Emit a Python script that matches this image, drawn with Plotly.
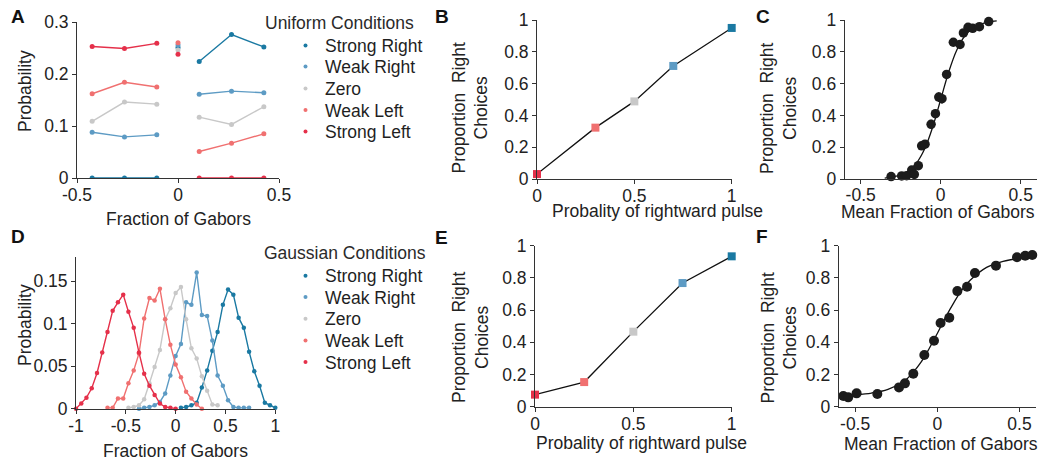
import plotly.graph_objects as go

W, H = 1044, 460
FONT = "Liberation Sans, Arial, Helvetica, sans-serif"
TXT = "#222222"
AXC = "#333333"

CONDITIONS = ["Strong Right", "Weak Right", "Zero", "Weak Left", "Strong Left"]
COLORS = {
    "Strong Right": "#1a79a2",
    "Weak Right": "#5d9bc4",
    "Zero": "#c8c8c8",
    "Weak Left": "#f07070",
    "Strong Left": "#e5304a",
}

# ---- A: uniform conditions, probability per fraction of Gabors ----
A_X = [-0.425, -0.265, -0.105, 0.0, 0.105, 0.265, 0.425]
A_VALUES = {
    "Strong Right": [0.000, 0.000, 0.000, 0.251, 0.224, 0.276, 0.252],
    "Weak Right":   [0.088, 0.079, 0.083, 0.256, 0.161, 0.167, 0.164],
    "Zero":         [0.109, 0.146, 0.142, 0.246, 0.117, 0.103, 0.137],
    "Weak Left":    [0.162, 0.184, 0.175, 0.260, 0.051, 0.067, 0.085],
    "Strong Left":  [0.253, 0.249, 0.259, 0.238, 0.000, 0.000, 0.000],
}

# ---- D: gaussian conditions, histogram bin centres and probabilities ----
D_BINS = [-1.000, -0.947, -0.895, -0.842, -0.789, -0.737, -0.684, -0.632,
          -0.579, -0.526, -0.474, -0.421, -0.368, -0.316, -0.263, -0.211,
          -0.158, -0.105, -0.053, 0.000, 0.053, 0.105, 0.158, 0.211, 0.263,
          0.316, 0.368, 0.421, 0.474, 0.526, 0.579, 0.632, 0.684, 0.737,
          0.789, 0.842, 0.895, 0.947, 1.000]
D_FIRST_BIN = {"Strong Left": 0, "Weak Left": 6, "Zero": 10,
               "Weak Right": 12, "Strong Right": 20}
D_VALUES = {
    "Strong Left": [0.000, 0.006, 0.013, 0.024, 0.042, 0.066, 0.090, 0.115,
                    0.125, 0.134, 0.114, 0.095, 0.066, 0.041, 0.027, 0.016,
                    0.006, 0.002, 0.001, 0.000],
    "Weak Left": [0.001, 0.001, 0.012, 0.012, 0.030, 0.045, 0.065, 0.106,
                  0.130, 0.127, 0.141, 0.105, 0.075, 0.052, 0.037, 0.020,
                  0.012, 0.005, 0.000],
    "Zero": [0.001, 0.002, 0.004, 0.011, 0.030, 0.049, 0.069, 0.105, 0.118,
             0.136, 0.143, 0.105, 0.071, 0.059, 0.038, 0.021, 0.005, 0.004],
    "Weak Right": [0.000, 0.001, 0.002, 0.004, 0.008, 0.018, 0.039, 0.062,
                   0.076, 0.125, 0.122, 0.160, 0.110, 0.109, 0.080, 0.039,
                   0.027, 0.010, 0.002, 0.001, 0.001, 0.001],
    "Strong Right": [0.001, 0.002, 0.004, 0.007, 0.025, 0.045, 0.068, 0.090,
                     0.122, 0.140, 0.134, 0.107, 0.095, 0.067, 0.044, 0.027,
                     0.007, 0.004, 0.001],
}

# ---- B / E: proportion of right choices per rightward-pulse probability ----
B_ORDER = ["Strong Left", "Weak Left", "Zero", "Weak Right", "Strong Right"]
B_P = [0.0, 0.3, 0.5, 0.7, 1.0]
B_PROP = [0.031, 0.323, 0.488, 0.711, 0.950]
B_ERR = [0.008, 0.012, 0.010, 0.018, 0.008]
E_P = [0.0, 0.25, 0.5, 0.75, 1.0]
E_PROP = [0.075, 0.153, 0.466, 0.768, 0.934]

# ---- C / F: psychometric data and fitted curves ----
C_X = [-0.310, -0.244, -0.213, -0.181, -0.165, -0.140, -0.119, -0.098,
       -0.060, -0.033, -0.012, 0.008, 0.037, 0.079, 0.121, 0.142, 0.171,
       0.200, 0.242, 0.300]
C_Y = [0.015, 0.019, 0.021, 0.056, 0.029, 0.084, 0.209, 0.219, 0.344, 0.411,
       0.515, 0.505, 0.658, 0.860, 0.846, 0.919, 0.954, 0.948, 0.958, 0.990]
C_ERR = [0.010, 0.012, 0.012, 0.018, 0.014, 0.020, 0.025, 0.025, 0.028, 0.028,
         0.030, 0.030, 0.028, 0.025, 0.025, 0.018, 0.014, 0.014, 0.012, 0.008]
C_FIT_X = [-0.35, -0.30, -0.25, -0.20, -0.15, -0.10, -0.05, 0.00, 0.05,
           0.10, 0.15, 0.20, 0.25, 0.30, 0.35]
C_FIT_Y = [0.006, 0.013, 0.026, 0.052, 0.102, 0.190, 0.327, 0.500, 0.673,
           0.810, 0.898, 0.948, 0.974, 0.987, 0.994]

F_X = [-0.572, -0.542, -0.491, -0.365, -0.233, -0.197, -0.146, -0.079,
       -0.020, 0.020, 0.073, 0.122, 0.181, 0.229, 0.357, 0.485, 0.535, 0.578]
F_Y = [0.066, 0.058, 0.083, 0.079, 0.120, 0.145, 0.205, 0.321, 0.410, 0.520,
       0.553, 0.718, 0.745, 0.830, 0.876, 0.928, 0.938, 0.942]
F_FIT_X = [-0.60, -0.50, -0.40, -0.30, -0.20, -0.15, -0.10, -0.05, 0.00, 0.05,
           0.10, 0.15, 0.20, 0.30, 0.40, 0.50, 0.60]
F_FIT_Y = [0.071, 0.075, 0.085, 0.108, 0.160, 0.210, 0.275, 0.360, 0.455,
           0.555, 0.645, 0.725, 0.785, 0.865, 0.903, 0.920, 0.927]


def px(x):
    return x / W


def py(y):
    return 1 - y / H


def _common(tickvals, ticktext):
    return dict(
        showline=True, linecolor=AXC, linewidth=1,
        ticks="outside", ticklen=4, tickwidth=1, tickcolor=AXC,
        tickvals=tickvals, ticktext=ticktext,
        showgrid=False, zeroline=False, automargin=False,
        tickfont=dict(family=FONT, size=17.5, color=TXT),
    )


def xaxis(x0, x1, rng, tickvals, ticktext, anchor, standoff=-3):
    return dict(domain=[px(x0), px(x1)], range=rng, anchor=anchor,
                ticklabelstandoff=standoff, **_common(tickvals, ticktext))


def yaxis(y_bottom, y_top, rng, tickvals, ticktext, anchor):
    return dict(domain=[py(y_bottom), py(y_top)], range=rng, anchor=anchor,
                **_common(tickvals, ticktext))


fig = go.Figure()

# A: left block, centre point and right block are drawn as separate pieces
for name in CONDITIONS:
    vals = A_VALUES[name]
    xs = A_X[:3] + [None, A_X[3], None] + A_X[4:]
    ys = vals[:3] + [None, vals[3], None] + vals[4:]
    fig.add_trace(go.Scatter(
        x=xs, y=ys, xaxis="x", yaxis="y", mode="lines+markers",
        line=dict(color=COLORS[name], width=1.4),
        marker=dict(color=COLORS[name], size=5),
        connectgaps=False, showlegend=False, cliponaxis=True,
    ))

# D: histograms
for name in CONDITIONS:
    start = D_FIRST_BIN[name]
    vals = D_VALUES[name]
    fig.add_trace(go.Scatter(
        x=D_BINS[start:start + len(vals)], y=vals, xaxis="x4", yaxis="y4",
        mode="lines+markers",
        line=dict(color=COLORS[name], width=1.4),
        marker=dict(color=COLORS[name], size=4.5),
        showlegend=False, cliponaxis=False,
    ))

# B and E
for p, prop, err, ax_x, ax_y in ((B_P, B_PROP, B_ERR, "x2", "y2"),
                                 (E_P, E_PROP, None, "x5", "y5")):
    fig.add_trace(go.Scatter(
        x=p, y=prop, xaxis=ax_x, yaxis=ax_y, mode="lines",
        line=dict(color="#111111", width=1.3), showlegend=False,
        cliponaxis=False,
    ))
    fig.add_trace(go.Scatter(
        x=p, y=prop, xaxis=ax_x, yaxis=ax_y, mode="markers",
        marker=dict(symbol="square", size=8,
                    color=[COLORS[n] for n in B_ORDER]),
        error_y=(dict(type="data", array=err, color="#333333",
                      thickness=1.2, width=0) if err else None),
        showlegend=False, cliponaxis=False,
    ))

# C and F
fig.add_trace(go.Scatter(
    x=C_FIT_X, y=C_FIT_Y, xaxis="x3", yaxis="y3", mode="lines",
    line=dict(color="#111111", width=1.3, shape="spline", smoothing=1.0),
    showlegend=False, cliponaxis=False,
))
fig.add_trace(go.Scatter(
    x=C_X, y=C_Y, xaxis="x3", yaxis="y3", mode="markers",
    marker=dict(color="#1c1c1c", size=9.5),
    error_y=dict(type="data", array=C_ERR, color="#1c1c1c",
                 thickness=1.5, width=0),
    showlegend=False, cliponaxis=False,
))
fig.add_trace(go.Scatter(
    x=F_FIT_X, y=F_FIT_Y, xaxis="x6", yaxis="y6", mode="lines",
    line=dict(color="#111111", width=1.3, shape="spline", smoothing=1.0),
    showlegend=False, cliponaxis=False,
))
fig.add_trace(go.Scatter(
    x=F_X, y=F_Y, xaxis="x6", yaxis="y6", mode="markers",
    marker=dict(color="#1c1c1c", size=10),
    showlegend=False, cliponaxis=False,
))

prop_ticks = [0, 0.2, 0.4, 0.6, 0.8, 1]
prop_text = ["0", "0.2", "0.4", "0.6", "0.8", "1"]

fig.update_layout(
    template="none",
    width=W, height=H,
    margin=dict(l=0, r=0, t=0, b=0, autoexpand=False),
    paper_bgcolor="white", plot_bgcolor="white",
    font=dict(family=FONT, size=17.5, color=TXT),
    xaxis=xaxis(77, 279, [-0.5, 0.5], [-0.5, 0, 0.5], ["-0.5", "0", "0.5"], "y"),
    yaxis=yaxis(178, 22, [0, 0.3], [0, 0.1, 0.2, 0.3],
                ["0", "0.1", "0.2", "0.3"], "x"),
    xaxis2=xaxis(537, 731.7, [0, 1], [0, 0.5, 1], ["0", "0.5", "1"], "y2"),
    yaxis2=yaxis(179, 20, [0, 1], prop_ticks, prop_text, "x2"),
    xaxis3=xaxis(844.7, 1036.7, [-0.6, 0.6], [-0.5, 0, 0.5],
                 ["-0.5", "0", "0.5"], "y3", standoff=-4),
    yaxis3=yaxis(179, 20, [0, 1], prop_ticks, prop_text, "x3"),
    xaxis4=xaxis(76, 275.3, [-1, 1], [-1, -0.5, 0, 0.5, 1],
                 ["-1", "-0.5", "0", "0.5", "1"], "y4"),
    yaxis4=yaxis(408.7, 256.7, [0, 0.1786], [0, 0.05, 0.1, 0.15],
                 ["0", "0.05", "0.1", "0.15"], "x4"),
    xaxis5=xaxis(535, 731.7, [0, 1], [0, 0.5, 1], ["0", "0.5", "1"], "y5"),
    yaxis5=yaxis(406.7, 245.7, [0, 1], prop_ticks, prop_text, "x5"),
    xaxis6=xaxis(838.7, 1035.9, [-0.6, 0.6], [-0.5, 0, 0.5],
                 ["-0.5", "0", "0.5"], "y6"),
    yaxis6=yaxis(406.7, 245.7, [0, 1], prop_ticks, prop_text, "x6"),
)

annotations = []
shapes = []


def text(x, y, s, size=17.5, color=TXT, angle=0, xanchor="center",
         bold=False):
    annotations.append(dict(
        x=px(x), y=py(y), xref="paper", yref="paper", text=s,
        showarrow=False, xanchor=xanchor, yanchor="middle", textangle=angle,
        font=dict(family=FONT, size=size, color=color,
                  weight="bold" if bold else "normal"),
    ))


# panel letters
for letter, x, y in (("A", 18.3, 16.5), ("B", 442, 16.5), ("C", 762.5, 16.5),
                     ("D", 18.3, 236.7), ("E", 441, 237.5), ("F", 762, 236.7)):
    text(x, y, letter, size=19, color="#111111", bold=True)

# axis titles
text(178.3, 219, "Fraction of Gabors")
text(25, 91, "Probability", angle=-90)
text(175.8, 450.5, "Fraction of Gabors")
text(25, 325, "Probability", angle=-90)
ylab = "Proportion\u00a0 Right<br>Choices"
text(470, 108.5, ylab, angle=-90)
text(470, 338, ylab, angle=-90)
text(778.5, 108.5, ylab, angle=-90)
text(779, 338.5, ylab, angle=-90)
text(657, 211, "Probality of rightward pulse")
text(641, 442.5, "Probality of rightward pulse")
text(938, 211.5, "Mean Fraction of Gabors")
text(941, 444, "Mean Fraction of Gabors")

# condition keys
for title, title_x, title_y, rows in (
        ("Uniform Conditions", 415.5, 23, [46, 67, 89, 110.5, 132]),
        ("Gaussian Conditions", 428.3, 253.3, [276.3, 297.5, 319.3, 341, 362.5])):
    text(title_x, title_y, title, xanchor="right", color="#2a2a2a")
    for name, ry in zip(CONDITIONS, rows):
        text(323.3, ry, name, xanchor="left", color="#1f1f1f")
        shapes.append(dict(
            type="circle", xref="paper", yref="paper",
            xsizemode="pixel", ysizemode="pixel",
            xanchor=px(305.5), yanchor=py(ry - 0.5),
            x0=-2, x1=2, y0=-2, y1=2,
            fillcolor=COLORS[name], line=dict(width=0),
        ))

fig.update_layout(annotations=annotations, shapes=shapes)

fig.write_html("out.html")
